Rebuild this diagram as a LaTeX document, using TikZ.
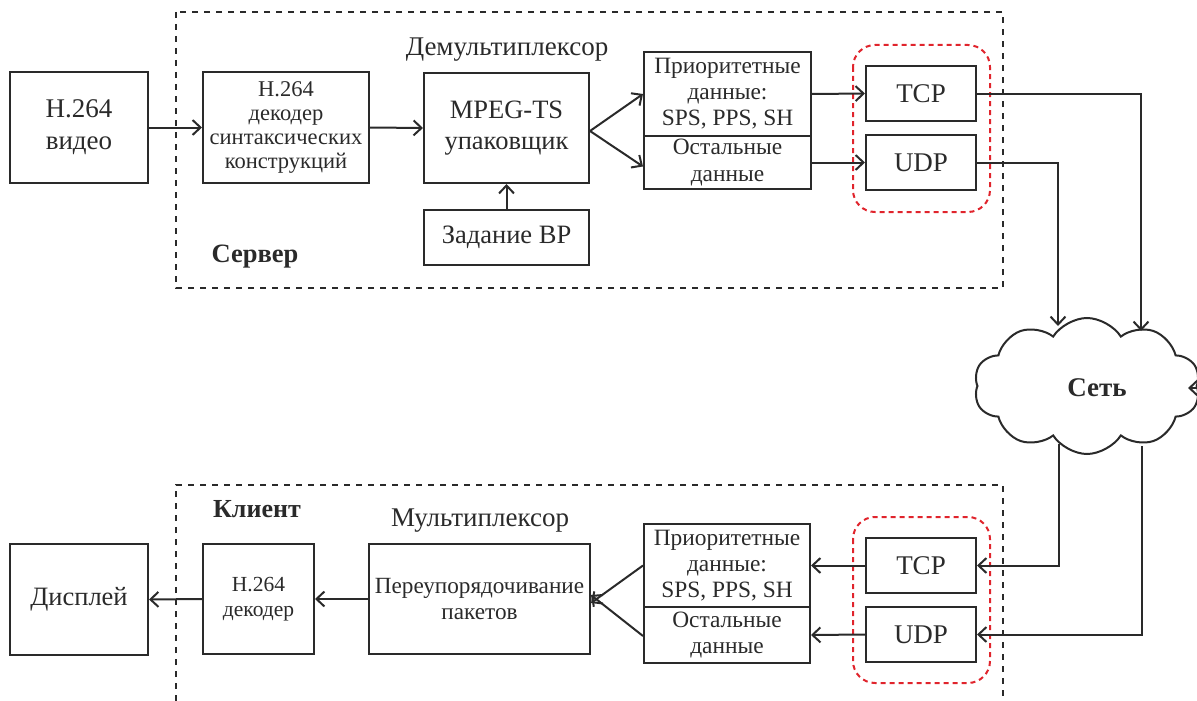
\documentclass[tikz,border=0pt]{standalone}
\usepackage{fontspec}
\setmainfont{Liberation Serif}
\usetikzlibrary{arrows.meta,shapes.symbols,calc}
\definecolor{ink}{HTML}{2A2A2A}
\definecolor{redd}{HTML}{E0242C}
\newcommand\fsz[2]{\fontsize{#1}{#2}\selectfont}
\begin{document}
\begin{tikzpicture}[x=1pt,y=-1pt,
  box/.style={draw=ink, line width=2pt, inner sep=0pt, align=center, text=ink},
  arr/.style={draw=ink, line width=2pt, -{Straight Barb[length=8pt,width=15pt,line width=2pt]}},
  grp/.style={draw=ink, line width=2pt, dash pattern=on 6pt off 6pt},
  redgrp/.style={draw=redd, line width=2pt, dash pattern=on 5pt off 4pt, rounded corners=22pt},
  lbl/.style={text=ink, inner sep=0pt}
]
\useasboundingbox (0,0) rectangle (1197,701);
% group frames
\draw[grp] (176,12) rectangle (1003,288);
\draw[grp] (176,701) -- (176,485) -- (1003,485) -- (1003,701);
\draw[redgrp] (853,45) rectangle (990,212);
\draw[redgrp] (853,517) rectangle (990,683);
% server
\node[box, minimum width=138pt, minimum height=111pt, font=\fsz{27}{32}] (vid) at (79,127.5) {H.264\\видео};
\node[box, minimum width=166pt, minimum height=111pt, font=\fsz{22.5}{24}] (sdec) at (286,127.5) {H.264\\декодер\\синтаксических\\конструкций};
\node[box, minimum width=165pt, minimum height=110pt, font=\fsz{26.5}{31}] (mpeg) at (506.5,128) {MPEG-TS\\упаковщик};
\node[box, minimum width=165pt, minimum height=55pt, font=\fsz{26.5}{30}] (task) at (506.5,237.5) {Задание ВР};
\node[box, minimum width=167pt, minimum height=84pt, font=\fsz{23.4}{26}] (sprio) at (727.5,94) {Приоритетные\\данные:\\SPS, PPS, SH};
\node[box, minimum width=167pt, minimum height=53pt, font=\fsz{23.4}{26.5}] (srest) at (727.5,162.5) {Остальные\\данные};
\node[box, minimum width=110pt, minimum height=55pt, font=\fsz{27}{32}] (stcp) at (921,93.5) {TCP};
\node[box, minimum width=110pt, minimum height=55pt, font=\fsz{27}{32}] (sudp) at (921,162.5) {UDP};
\node[lbl, font=\fsz{27}{30}] (demux) at (507,50) {Демультиплексор};
\node[lbl, font=\bfseries\fsz{26.5}{30}] (srv) at (255,257) {Сервер};
% network
\node[cloud, draw=ink, line width=2pt, cloud puffs=10, cloud puff arc=115, aspect=1.7,
      minimum width=226pt, minimum height=136pt, inner sep=0pt] (net) at (1087,386) {};
\node[lbl, font=\bfseries\fsz{27}{30}] (nett) at (1097,388) {Сеть};
\coordinate (n1) at (1141,331);
\coordinate (n2) at (1058,326);
\coordinate (c1) at (1059,444);
\coordinate (c2) at (1142,446);
\coordinate (ext) at (1215,388);
\coordinate (exte) at (1188,388);
% client
\node[box, minimum width=166pt, minimum height=83pt, font=\fsz{23.4}{26}] (cprio) at (727,565.5) {Приоритетные\\данные:\\SPS, PPS, SH};
\node[box, minimum width=166pt, minimum height=56pt, font=\fsz{23.4}{26.5}] (crest) at (727,635) {Остальные\\данные};
\node[box, minimum width=110pt, minimum height=55pt, font=\fsz{27}{32}] (ctcp) at (921,565.5) {TCP};
\node[box, minimum width=110pt, minimum height=55pt, font=\fsz{27}{32}] (cudp) at (921,634.5) {UDP};
\node[box, minimum width=221pt, minimum height=110pt, font=\fsz{23.2}{26}] (reord) at (479.5,599) {Переупорядочивание\\пакетов};
\node[box, minimum width=111pt, minimum height=110pt, font=\fsz{21.5}{25}] (cdec) at (258.5,599) {H.264\\декодер};
\node[box, minimum width=138pt, minimum height=111pt, font=\fsz{26.5}{32}] (disp) at (79,599.5) {Дисплей};
\node[lbl, font=\fsz{27}{30}] (mux) at (480,521) {Мультиплексор};
\node[lbl, font=\bfseries\fsz{26}{30}] (cli) at (257,509) {Клиент};
% server connectors
\draw[arr] (vid.east) -- (sdec.west);
\draw[arr] (sdec.east) -- (mpeg.west);
\draw[arr] (task.north) -- (mpeg.south);
\draw[arr] ([yshift=-3pt]mpeg.east) -- (sprio.west);
\draw[arr] ([yshift=-3pt]mpeg.east) -- ([yshift=-4pt]srest.west);
\draw[arr] (sprio.east) -- (stcp.west);
\draw[arr] (srest.east) -- (sudp.west);
\draw[arr] (stcp.east) -| (n1);
\draw[arr] (sudp.east) -| (n2);
\draw[arr] (ext) -- (exte);
% client connectors
\draw[arr] (c1) |- (ctcp.east);
\draw[arr] (c2) |- (cudp.east);
\draw[arr] (ctcp.west) -- (cprio.east);
\draw[arr] (cudp.west) -- (crest.east);
\draw[arr] (cprio.west) -- ([yshift=-4pt]reord.east);
\draw[arr] ([yshift=-1pt]crest.west) -- ([yshift=4pt]reord.east);
\draw[arr] (reord.west) -- (cdec.east);
\draw[arr] (cdec.west) -- (disp.east);
\end{tikzpicture}
\end{document}
